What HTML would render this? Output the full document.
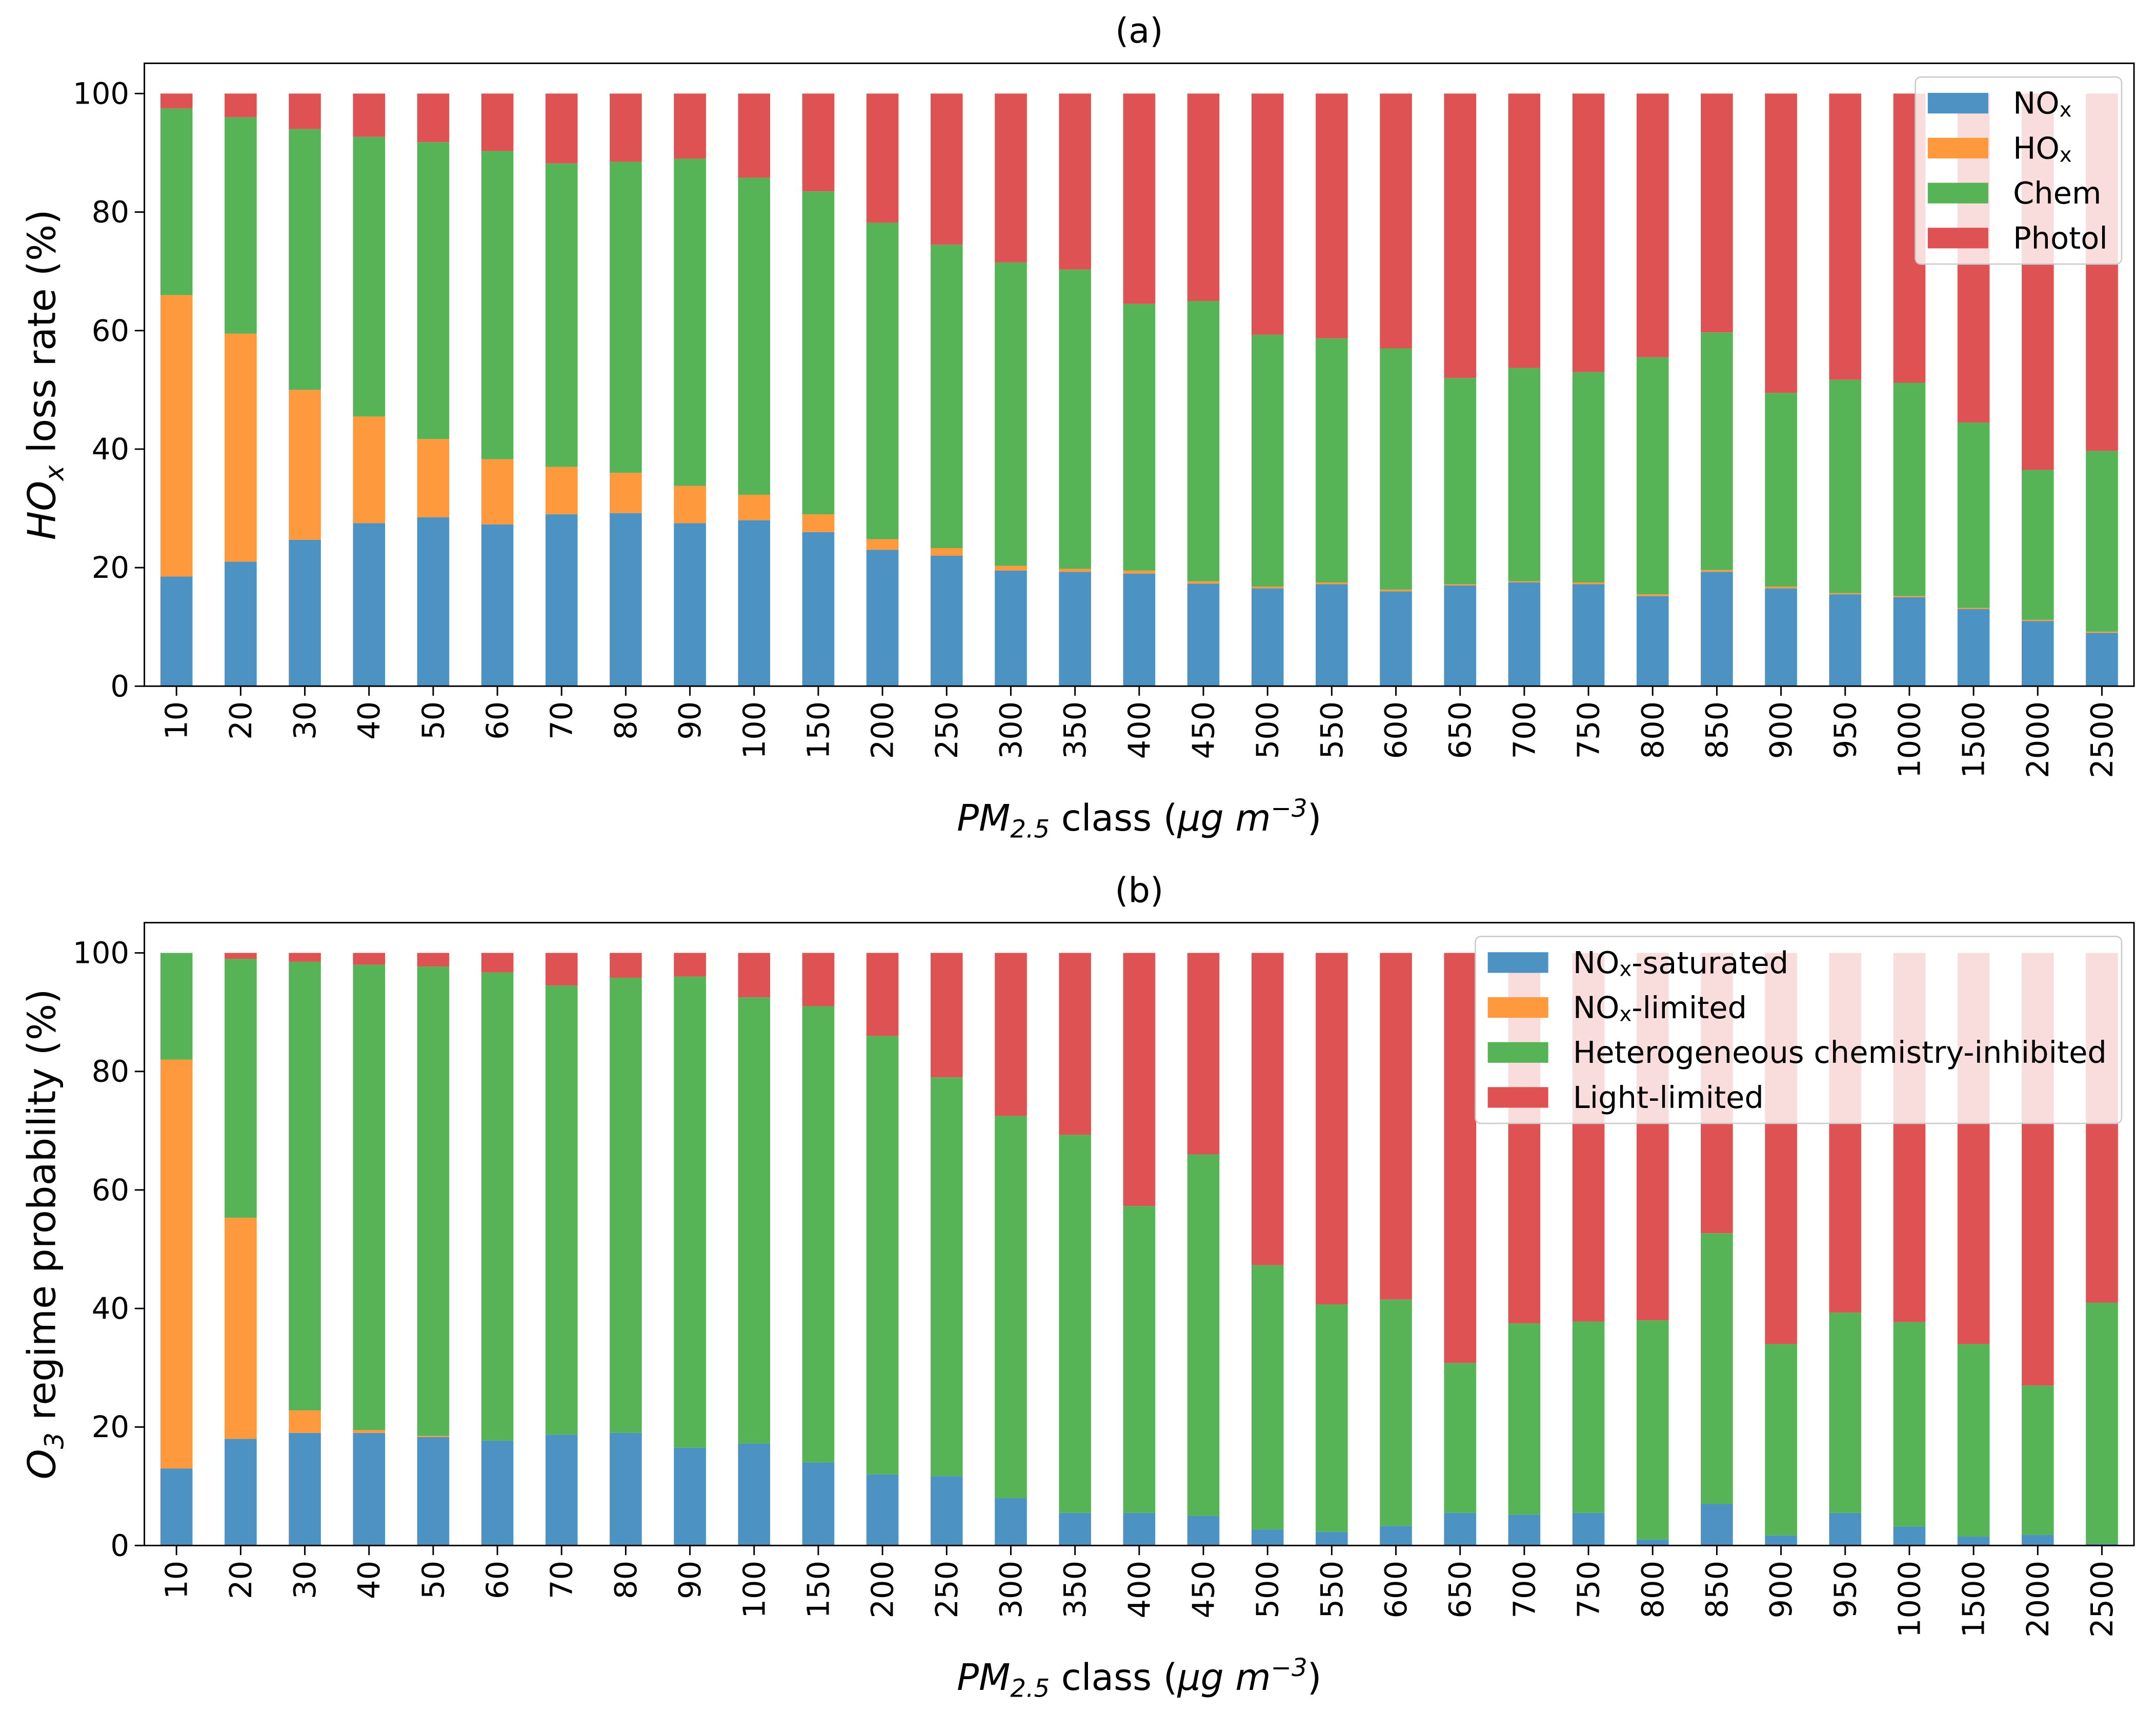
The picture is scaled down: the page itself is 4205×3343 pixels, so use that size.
<!DOCTYPE html>
<html><head><meta charset="utf-8"><style>
html,body{margin:0;padding:0;background:#fff;}
svg{display:block;font-family:"DejaVu Sans","Liberation Sans",sans-serif;}
</style></head><body>
<svg id="fig" width="4205" height="3343" viewBox="0 0 1568 1246.5" xmlns="http://www.w3.org/2000/svg"></svg>
<script>
const categories=["10","20","30","40","50","60","70","80","90","100","150","200","250","300","350","400","450","500","550","600","650","700","750","800","850","900","950","1000","1500","2000","2500"];
// Panel (a) cumulative tops
const aNOx=[18.5,21,24.7,27.5,28.5,27.3,29,29.2,27.5,28,26,23,22,19.5,19.3,19,17.3,16.5,17.2,16,17,17.5,17.2,15.2,19.3,16.5,15.5,15,13,11,9];
const aHOxTop=[66,59.5,50,45.5,41.7,38.3,37,36,33.8,32.3,29,24.8,23.3,20.3,19.8,19.5,17.7,16.8,17.5,16.3,17.2,17.7,17.5,15.5,19.6,16.8,15.7,15.2,13.2,11.2,9.2];
const aChemTop=[97.5,96,94,92.7,91.8,90.3,88.2,88.5,89,85.8,83.5,78.2,74.5,71.5,70.3,64.5,65,59.3,58.7,57,52,53.7,53,55.5,59.7,49.5,51.7,51.2,44.5,36.5,39.7];
// Panel (b) cumulative tops
const bSat=[13,18,19,19,18.3,17.7,18.7,19,16.5,17.2,14,12,11.7,8,5.5,5.5,5,2.7,2.3,3.3,5.5,5.2,5.5,1,7,1.7,5.5,3.2,1.5,1.8,0.3];
const bLimTop=[82,55.3,22.8,19.5,18.5,17.7,18.7,19,16.5,17.2,14,12,11.7,8,5.5,5.5,5,2.7,2.3,3.3,5.5,5.2,5.5,1,7,1.7,5.5,3.2,1.5,1.8,0.3];
const bHetTop=[100,99,98.5,98,97.7,96.7,94.5,95.8,96,92.5,91,86,79,72.5,69.3,57.3,66,47.3,40.7,41.5,30.8,37.5,37.8,38,52.7,34,39.3,37.7,34,27,41];
const yTicks=[0,20,40,60,80,100];
const COLORS=["rgb(76,146,195)","rgb(255,153,62)","rgb(86,179,86)","rgb(222,82,83)"];

const NS="http://www.w3.org/2000/svg";
const svg=document.getElementById('fig');
function el(tag,attrs,parent){const e=document.createElementNS(NS,tag);for(const k in attrs)e.setAttribute(k,attrs[k]);(parent||svg).appendChild(e);return e;}

function panel(opt){
  const L=105,R=1552,T=opt.top,B=opt.top+453;
  const y0=B,yPer=(B-(T+22))/100;
  const step=(R-L)/categories.length;
  const xs=i=>L+step*(i+0.5);
  const ys=v=>y0-v*yPer;
  const g=el('g',{});
  
  
  const bw=step*0.5;
  opt.series.forEach((s,si)=>{
    categories.forEach((c,i)=>{
      const lo=si===0?0:opt.series[si-1].top[i];
      const hi=s.top[i];
      const r=el('rect',{x:xs(i)-bw/2,y:ys(hi),width:bw,height:Math.max(0,ys(lo)-ys(hi)),fill:COLORS[si]},g);
      
      
    });
  });
  const frame=el('rect',{x:L,y:T,width:R-L,height:B-T,fill:'none',stroke:'#000','stroke-width':1.1},g);
  
  
  yTicks.forEach(t=>{
    el('line',{x1:L-7,x2:L,y1:ys(t),y2:ys(t),stroke:'#000','stroke-width':1.1},g);
    const tx=el('text',{x:L-11,y:ys(t),'text-anchor':'end','dominant-baseline':'central','font-size':21.5},g);
    tx.textContent=t;
    
    
  });
  categories.forEach((c,i)=>{
    el('line',{x1:xs(i),x2:xs(i),y1:B,y2:B+7,stroke:'#000','stroke-width':1.1},g);
    const tx=el('text',{x:0,y:0,'text-anchor':'end','dominant-baseline':'central','font-size':22,transform:`translate(${xs(i)},${B+11}) rotate(-90)`},g);
    tx.textContent=c;
    
    
  });
  const title=el('text',{x:(L+R)/2,y:T-15,'text-anchor':'middle','font-size':25},g);
  title.textContent=opt.title;
  
  
  const xl=el('text',{x:(L+R)/2,y:B+105,'text-anchor':'middle','font-size':26.5},g);
  xl.innerHTML='<tspan font-style="italic">PM</tspan><tspan font-style="italic" font-size="18" dy="5">2.5</tspan><tspan dy="-5"> class (</tspan><tspan font-style="italic">μg m</tspan><tspan font-style="italic" font-size="18" dy="-10">−3</tspan><tspan dy="10">)</tspan>';
  
  
  const yl=el('text',{x:0,y:0,'text-anchor':'middle','font-size':28,transform:`translate(40,${(T+B)/2}) rotate(-90)`},g);
  yl.innerHTML=opt.ylabel;
  
  
  // legend
  const lg=el('g',{},g);
  
  
  el('rect',{x:opt.legX,y:T+10,width:R-9-opt.legX,height:136,rx:4,fill:'rgba(255,255,255,0.8)',stroke:'#ccc','stroke-width':1},lg);
  opt.series.forEach((s,si)=>{
    const yy=T+29+si*32.7;
    const e=el('g',{},lg);
    
    
    el('rect',{x:opt.legX+9,y:yy-7.5,width:44,height:15,fill:COLORS[si]},e);
    const t=el('text',{x:opt.legX+71,y:yy,'dominant-baseline':'central','font-size':22},e);
    t.innerHTML=s.label;
  });
}
const sub=s=>`${s}<tspan font-size="15" dy="5">x</tspan>`;
panel({name:'panel-a',top:46,title:'(a)',legX:1393,
  ylabel:'<tspan font-style="italic">HO</tspan><tspan font-style="italic" font-size="19" dy="6">x</tspan><tspan dy="-6"> loss rate (%)</tspan>',
  series:[{key:'nox',label:sub('NO'),top:aNOx},{key:'hox',label:sub('HO'),top:aHOxTop},{key:'chem',label:'Chem',top:aChemTop},{key:'photol',label:'Photol',top:aNOx.map(()=>100)}]});
panel({name:'panel-b',top:671,title:'(b)',legX:1073,
  ylabel:'<tspan font-style="italic">O</tspan><tspan font-style="italic" font-size="19" dy="6">3</tspan><tspan dy="-6"> regime probability (%)</tspan>',
  series:[{key:'sat',label:'NO<tspan font-size="15" dy="5">x</tspan><tspan dy="-5">-saturated</tspan>',top:bSat},{key:'lim',label:'NO<tspan font-size="15" dy="5">x</tspan><tspan dy="-5">-limited</tspan>',top:bLimTop},{key:'het',label:'Heterogeneous chemistry-inhibited',top:bHetTop},{key:'light',label:'Light-limited',top:bSat.map(()=>100)}]});
</script>
</body></html>
